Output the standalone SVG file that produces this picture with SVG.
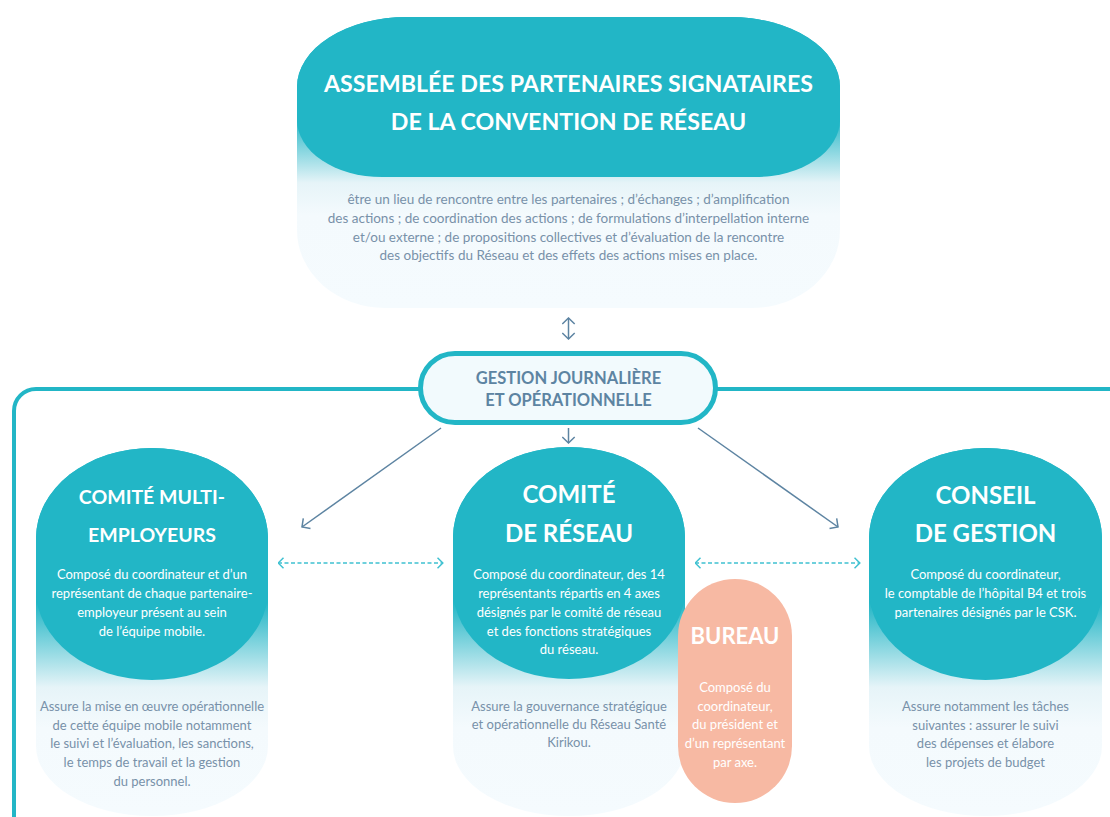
<svg xmlns="http://www.w3.org/2000/svg" width="1110" height="817" viewBox="0 0 1110 817">
<style>
text{font-family:Lato,"Noto Sans",sans-serif;text-anchor:middle}
.h{font-weight:bold;fill:#fff}
.w{fill:#fff;font-size:13px}
.g{fill:#7891a9;font-size:13px}
.t{fill:#7891a9;font-size:13.5px}
.teal{fill:#22b6c6}
.conn{fill:none;stroke:#5d84a2;stroke-width:1.5}
.dash{fill:none;stroke:#3fc1d1;stroke-width:1.5;stroke-dasharray:4 2.5}
</style>
<defs>
<linearGradient id="gTop" x1="0" y1="0" x2="0" y2="1">
<stop offset="0" stop-color="#22b6c6"/>
<stop offset="0.34" stop-color="#22b6c6"/>
<stop offset="0.57" stop-color="#e6f4f8"/>
<stop offset="0.68" stop-color="#f4fafd"/>
<stop offset="1" stop-color="#f5fbfe"/>
</linearGradient>
<linearGradient id="gCol" x1="0" y1="0" x2="0" y2="1">
<stop offset="0" stop-color="#22b6c6"/>
<stop offset="0.42" stop-color="#22b6c6"/>
<stop offset="0.65" stop-color="#e6f4f8"/>
<stop offset="0.76" stop-color="#f4fafd"/>
<stop offset="1" stop-color="#f5fbfe"/>
</linearGradient>
<marker id="aS" viewBox="0 0 8 14" refX="7" refY="7" markerWidth="8" markerHeight="14" markerUnits="userSpaceOnUse" orient="auto-start-reverse">
<path d="M1,0.8 L7,7 L1,13.2" fill="none" stroke="#5d84a2" stroke-width="1.5"/>
</marker>
<marker id="aD" viewBox="0 0 7 12" refX="6.5" refY="6" markerWidth="7" markerHeight="12" markerUnits="userSpaceOnUse" orient="auto-start-reverse">
<path d="M1,0.8 L6.3,6 L1,11.2" fill="none" stroke="#3fc1d1" stroke-width="1.5"/>
</marker>
</defs>
<rect width="1110" height="817" fill="#fff"/>

<g id="frame">
<rect x="14" y="389" width="1200" height="600" rx="22" fill="none" stroke="#22b6c6" stroke-width="4"/>
</g>

<g id="assemblee">
<path d="M407,17 H730 A110,70 0 0 1 840,87 V230 A88,78 0 0 1 752,308 H385 A88,78 0 0 1 297,230 V87 A110,70 0 0 1 407,17 Z" fill="url(#gTop)"/>
<path d="M407,17 H730 A110,70 0 0 1 840,87 V120 A85,57 0 0 1 755,177 H382 A85,57 0 0 1 297,120 V87 A110,70 0 0 1 407,17 Z" class="teal"/>
<text class="h" x="568.5" y="92" font-size="23.2">ASSEMBLÉE DES PARTENAIRES SIGNATAIRES</text>
<text class="h" x="568.5" y="130" font-size="23.2">DE LA CONVENTION DE RÉSEAU</text>
<text class="t" x="568.5" y="204">être un lieu de rencontre entre les partenaires ; d’échanges ; d’amplification</text>
<text class="t" x="568.5" y="223">des actions ; de coordination des actions ; de formulations d’interpellation interne</text>
<text class="t" x="568.5" y="242">et/ou externe ; de propositions collectives et d’évaluation de la rencontre</text>
<text class="t" x="568.5" y="260">des objectifs du Réseau et des effets des actions mises en place.</text>
</g>

<g id="connectors">
<line class="conn" x1="568.5" y1="318" x2="568.5" y2="339" marker-start="url(#aS)" marker-end="url(#aS)"/>
<line class="conn" x1="568.5" y1="428" x2="568.5" y2="443" marker-end="url(#aS)"/>
<line class="conn" x1="441" y1="428" x2="302" y2="527" marker-end="url(#aS)"/>
<line class="conn" x1="698" y1="428" x2="838" y2="527" marker-end="url(#aS)"/>
<line class="dash" x1="278" y1="563" x2="443" y2="563" marker-start="url(#aD)" marker-end="url(#aD)"/>
<line class="dash" x1="695" y1="563" x2="860" y2="563" marker-start="url(#aD)" marker-end="url(#aD)"/>
</g>

<g id="gestion">
<rect x="420.5" y="353.5" width="295" height="69" rx="34.5" fill="#f2fafd" stroke="#22b6c6" stroke-width="5"/>
<text x="568.5" y="384" font-size="16.5" font-weight="bold" fill="#5d84a2">GESTION JOURNALIÈRE</text>
<text x="568.5" y="406" font-size="16.5" font-weight="bold" fill="#5d84a2">ET OPÉRATIONNELLE</text>
</g>

<g id="comite-multi">
<path d="M36,538 A116,90 0 0 1 268,538 V746 A116,70 0 0 1 36,746 Z" fill="url(#gCol)"/>
<rect x="36" y="448" width="232" height="232" rx="116" ry="90" class="teal"/>
<text class="h" x="152" y="504" font-size="19.5">COMITÉ MULTI-</text>
<text class="h" x="152" y="542" font-size="19.5">EMPLOYEURS</text>
<text class="w" x="152" y="579">Composé du coordinateur et d’un</text>
<text class="w" x="152" y="598">représentant de chaque partenaire-</text>
<text class="w" x="152" y="617">employeur présent au sein</text>
<text class="w" x="152" y="636">de l’équipe mobile.</text>
<text class="g" x="152" y="711">Assure la mise en œuvre opérationnelle</text>
<text class="g" x="152" y="730">de cette équipe mobile notamment</text>
<text class="g" x="152" y="748">le suivi et l’évaluation, les sanctions,</text>
<text class="g" x="152" y="767">le temps de travail et la gestion</text>
<text class="g" x="152" y="786">du personnel.</text>
</g>

<g id="comite-reseau">
<path d="M453,537 A116,90 0 0 1 685,537 V746 A116,70 0 0 1 453,746 Z" fill="url(#gCol)"/>
<rect x="453" y="447" width="232" height="232" rx="116" ry="90" class="teal"/>
<text class="h" x="569" y="503" font-size="24">COMITÉ</text>
<text class="h" x="569" y="542" font-size="24">DE RÉSEAU</text>
<text class="w" x="569" y="579">Composé du coordinateur, des 14</text>
<text class="w" x="569" y="598">représentants répartis en 4 axes</text>
<text class="w" x="569" y="617">désignés par le comité de réseau</text>
<text class="w" x="569" y="636">et des fonctions stratégiques</text>
<text class="w" x="569" y="654">du réseau.</text>
<text class="g" x="569" y="711">Assure la gouvernance stratégique</text>
<text class="g" x="569" y="729">et opérationnelle du Réseau Santé</text>
<text class="g" x="569" y="747">Kirikou.</text>
</g>

<g id="bureau">
<rect x="678" y="579" width="114" height="224" rx="57" fill="#f7b9a3"/>
<text class="h" x="735" y="644" font-size="22">BUREAU</text>
<text class="w" x="735" y="692">Composé du</text>
<text class="w" x="735" y="711">coordinateur,</text>
<text class="w" x="735" y="729">du président et</text>
<text class="w" x="735" y="748">d’un représentant</text>
<text class="w" x="735" y="767">par axe.</text>
</g>

<g id="conseil">
<path d="M869,538 A116.5,90 0 0 1 1102,538 V746 A116.5,70 0 0 1 869,746 Z" fill="url(#gCol)"/>
<rect x="869" y="448" width="233" height="232" rx="116.5" ry="90" class="teal"/>
<text class="h" x="985.5" y="504" font-size="24">CONSEIL</text>
<text class="h" x="985.5" y="542" font-size="24">DE GESTION</text>
<text class="w" x="985.5" y="579">Composé du coordinateur,</text>
<text class="w" x="985.5" y="598">le comptable de l’hôpital B4 et trois</text>
<text class="w" x="985.5" y="617">partenaires désignés par le CSK.</text>
<text class="g" x="985.5" y="711">Assure notamment les tâches</text>
<text class="g" x="985.5" y="730">suivantes : assurer le suivi</text>
<text class="g" x="985.5" y="748">des dépenses et élabore</text>
<text class="g" x="985.5" y="767">les projets de budget</text>
</g>
</svg>
